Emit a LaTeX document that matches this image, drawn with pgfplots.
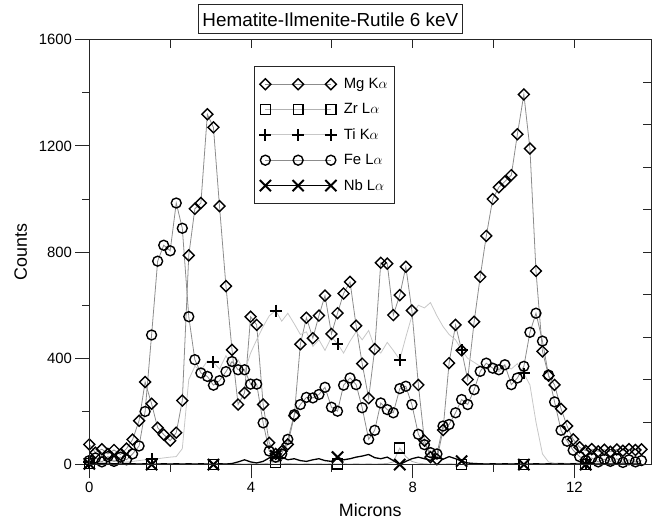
\documentclass[border=0pt]{standalone}
\usepackage{pgfplots}
\pgfplotsset{compat=1.18}
\usepackage{pgfplotstable}
\usepackage{fontspec}
\setmainfont{Liberation Sans}

% line-scan profile: position (microns) and counts per element line
\pgfplotstableread{
x     mg    zr  ti   fe   nb
0.00  76    5   8    15   3
0.15  45    2   5    25   2
0.31  58    3   10   10   4
0.46  40    1   6    30   2
0.61  55    4   12   12   3
0.77  38    2   8    28   2
0.92  60    3   10   18   4
1.07  94    2   12   40   3
1.23  165   3   15   70   2
1.38  311   2   18   200  3
1.54  229   0   20   488  0
1.69  139   2   22   766  2
1.84  113   3   25   826  3
2.00  90    2   28   805  2
2.15  120   3   30   985  3
2.30  241   2   60   890  2
2.46  788   3   320  557  3
2.61  963   2   370  395  2
2.76  985   3   355  345  3
2.92  1319  2   390  332  2
3.07  1270  0   385  299  0
3.22  973   2   360  316  3
3.38  672   3   410  350  2
3.53  432   2   370  388  4
3.68  226   3   395  357  10
3.84  270   2   350  357  18
3.99  557   3   420  303  10
4.14  526   2   470  303  6
4.30  226   3   520  157  12
4.45  82    5   560  51   25
4.61  40    8   580  28   33
4.76  50    5   540  40   28
4.91  76    4   570  95   18
5.07  184   3   530  188  22
5.22  453   2   490  226  15
5.37  553   3   500  253  12
5.53  476   2   445  251  18
5.68  561   3   470  264  22
5.83  636   2   430  291  15
5.99  492   3   480  216  12
6.14  570   2   455  201  28
6.29  644   3   420  299  18
6.45  688   2   465  326  22
6.60  523   3   500  301  28
6.75  380   2   470  214  32
6.91  250   3   505  95   38
7.06  435   2   440  129  26
7.21  760   3   420  232  22
7.37  757   4   460  207  28
7.52  563   10  430  195  15
7.68  638   62  395  286  0
7.83  745   30  480  295  12
7.98  580   12  560  226  22
8.14  300   5   600  114  28
8.29  90    3   590  75   22
8.44  28    2   610  45   16
8.60  20    3   560  40   26
8.75  130   2   520  145  20
8.90  382   3   490  151  30
9.06  526   2   470  195  22
9.21  430   0   431  245  13
9.36  320   2   400  226  6
9.52  538   3   385  282  4
9.67  707   2   370  351  3
9.82  861   3   360  382  2
9.98  1000  2   380  363  3
10.13 1044  3   350  357  2
10.28 1066  2   370  376  3
10.44 1090  3   360  301  2
10.59 1244  2   380  326  3
10.75 1394  0   343  370  0
10.90 1190  2   300  498  2
11.05 729   3   160  570  3
11.21 426   2   40   465  2
11.36 335   3   10   337  3
11.51 300   2   5    236  2
11.67 210   3   6    129  3
11.82 145   2   4    88   2
11.97 95    3   5    54   3
12.13 65    2   6    30   2
12.28 52    0   4    15   0
12.43 58    2   5    25   3
12.59 50    3   6    10   2
12.74 56    2   4    20   3
12.89 48    3   5    12   2
13.05 57    2   6    22   3
13.20 52    3   4    8    2
13.35 58    2   5    18   3
13.51 55    3   6    10   2
13.66 57    2   4    15   3
}\profile

\newcommand{\ticksize}{\fontsize{15}{18}\selectfont}

\begin{document}
\begin{tikzpicture}[x=1pt,y=1pt]
\path (-90,-60) rectangle (568,468);
\begin{axis}[
  scale only axis, width=566pt, height=428pt,
  xmin=0, xmax=13.9, ymin=0, ymax=1600,
  clip=false,
  axis line style={draw=black!85, line width=1pt},
  xtick={0,4,8,12}, minor xtick={2,6,10},
  ytick={0,400,800,1200,1600}, minor ytick={200,600,1000,1400},
  xtick pos=left, ytick pos=left,
  tick align=outside,
  major tick length=14pt, minor tick length=7pt,
  tick style={draw=black!85, line width=1pt},
  /pgf/number format/assume math mode=true,
  /pgf/number format/1000 sep={},
  tick label style={font=\ticksize},
  xlabel={Microns}, ylabel={Counts},
  every axis x label/.style={at={(axis description cs:0.5,-0.107)}, anchor=center, font=\fontsize{18}{20}\selectfont},
  every axis y label/.style={at={(axis description cs:-0.122,0.5)}, anchor=center, rotate=90, font=\fontsize{18}{20}\selectfont},
  legend style={at={(rel axis cs:0.293,0.937)}, anchor=north west,
    draw=black!85, line width=1pt, font=\ticksize,
    inner xsep=5pt, inner ysep=9.5pt, row sep=9.5pt, column sep=5pt,
    nodes={inner sep=2pt}},
  legend cell align=left,
  legend image code/.code={\draw[#1,mark repeat=1,mark phase=1] plot coordinates {(0pt,0pt) (33pt,0pt) (66pt,0pt)};},
]
\addplot[color=black!45, line width=0.8pt, mark=square, mark size=3.9pt,
  mark options={solid, draw=black, rotate=45, line width=1.4pt}]
  table[x=x, y=mg] {\profile};
\addlegendentry{Mg K$\alpha$}
\addplot[color=black!30, line width=0.8pt, mark=square, mark size=5pt,
  mark repeat=10, mark phase=1,
  mark options={solid, draw=black, line width=1.3pt}]
  table[x=x, y=zr] {\profile};
\addlegendentry{Zr L$\alpha$}
\addplot[color=black!22, line width=0.8pt, mark=+, mark size=6pt,
  mark repeat=10, mark phase=1,
  mark options={solid, draw=black, line width=2pt}]
  table[x=x, y=ti] {\profile};
\addlegendentry{Ti K$\alpha$}
\addplot[color=black!45, line width=0.8pt, mark=o, mark size=5pt,
  mark options={solid, draw=black, line width=1.4pt}]
  table[x=x, y=fe] {\profile};
\addlegendentry{Fe L$\alpha$}
\addplot[color=black, line width=1.3pt, mark=x, mark size=8pt,
  mark repeat=10, mark phase=1,
  mark options={solid, draw=black, line width=2pt}]
  table[x=x, y=nb] {\profile};
\addlegendentry{Nb L$\alpha$}
\node[draw=black!85, line width=1pt, font=\fontsize{19}{22}\selectfont,
  inner xsep=4pt, minimum height=29pt] at (rel axis cs:0.429,1.048)
  {Hematite-Ilmenite-Rutile 6 keV};
\end{axis}
% inward ticks along the top and right edges
\begin{axis}[
  scale only axis, width=566pt, height=428pt,
  xmin=0, xmax=13.9, ymin=0, ymax=1600,
  axis line style={draw=black!85, line width=1pt},
  xtick={0,2,...,12}, ytick={0,160,...,1600},
  xtick pos=right, ytick pos=right,
  tick align=inside, major tick length=8pt,
  tick style={draw=black!85, line width=1pt},
  xticklabels={}, yticklabels={},
]
\end{axis}
\end{tikzpicture}
\end{document}
